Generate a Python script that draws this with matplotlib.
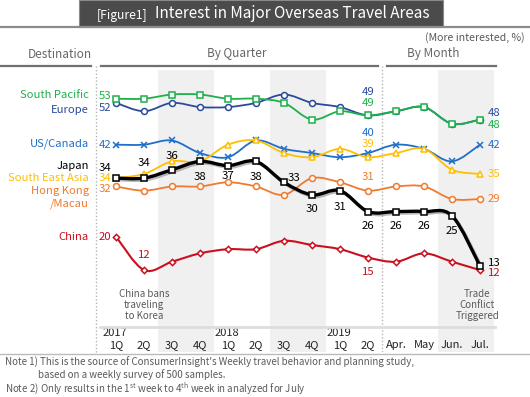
import matplotlib
matplotlib.use("Agg")
import matplotlib.pyplot as plt
import matplotlib.patheffects as pe
import matplotlib.transforms as mtransforms
from matplotlib.path import Path
from matplotlib.patches import PathPatch, Rectangle
from matplotlib.lines import Line2D

plt.rcParams['font.family'] = ['Noto Sans CJK KR', 'DejaVu Sans']
plt.rcParams['mathtext.default'] = 'regular'

W, H = 530, 397

# ---- data ----
periods = ['1Q', '2Q', '3Q', '4Q', '1Q', '2Q', '3Q', '4Q', '1Q', '2Q',
           'Apr.', 'May', 'Jun.', 'Jul.']
years = ['2017', '2018', '2019']
year_start = [0, 4, 8]
shaded = [(2, 3), (6, 7), (12, 13)]

south_pacific = [53, 53, 54, 54, 53, 53, 52, 48, 50, 49, 50, 51, 47, 48]
europe        = [52, 50, 52, 51, 51, 52, 54, 52, 51, 49, 50, 51, 47, 48]
us_canada     = [42, 42, 43, 40, 39, 43, 41, 40, 39, 40, 42, 41, 38, 42]
japan         = [34, 34, 36, 38, 37, 38, 33, 30, 31, 26, 26, 26, 25, 13]
se_asia       = [34, 35, 38, 38, 42, 43, 40, 39, 41, 39, 40, 41, 36, 35]
hk_macau      = [32, 31, 32, 32, 33, 32, 30, 34, 33, 31, 32, 32, 29, 29]
china         = [20, 12, 14, 16, 17, 17, 19, 18, 17, 15, 14, 16, 14, 12]

GREEN, NAVY, BLUE = '#1db04b', '#2b4a9b', '#1f6fc8'
YELLOW, ORANGE, RED = '#ffbf00', '#f07a2e', '#c8101e'
GREY_TXT = '#5a5a5a'


def fx(x):
    return x / W


def fy(y):
    return 1 - y / H


def smooth_path(ys):
    pts = list(enumerate(ys))
    n = len(pts)
    verts, codes = [pts[0]], [Path.MOVETO]
    for i in range(n - 1):
        p0, p1 = pts[max(i - 1, 0)], pts[i]
        p2, p3 = pts[i + 1], pts[min(i + 2, n - 1)]
        c1 = (p1[0] + (p2[0] - p0[0]) / 6, p1[1] + (p2[1] - p0[1]) / 6)
        c2 = (p2[0] - (p3[0] - p1[0]) / 6, p2[1] - (p3[1] - p1[1]) / 6)
        verts += [c1, c2, p2]
        codes += [Path.CURVE4] * 3
    return Path(verts, codes)


fig = plt.figure(figsize=(W / 100, H / 100), dpi=100)
fig.patch.set_facecolor('white')

# title bar
fig.add_artist(Rectangle((fx(79), fy(26.5)), fx(364), 26.5 / H, transform=fig.transFigure,
                         facecolor='#4b4b4b', edgecolor='#8a8a8a', lw=0.8))
fig.add_artist(Line2D([0, 1], [fy(27), fy(27)], color='#8c8c8c', lw=1.6))
fig.text(fx(97), fy(15), '[Figure1]', color='white', fontsize=8.7, va='center', ha='left')
fig.text(fx(155), fy(14), 'Interest in Major Overseas Travel Areas', color='white',
         fontsize=11, va='center', ha='left')

fig.text(fx(525), fy(38), '(More interested, %)', color=GREY_TXT, fontsize=7.6,
         ha='right', va='center')
fig.text(fx(60), fy(54), 'Destination', color='#666666', fontsize=8.5, ha='center', va='center')
fig.text(fx(237), fy(54), 'By Quarter', color='#666666', fontsize=8.5, ha='center', va='center')
fig.text(fx(433), fy(54), 'By Month', color='#666666', fontsize=8.5, ha='center', va='center')
for x0, x1 in [(0, 91), (101, 378), (387, 496)]:
    fig.add_artist(Line2D([fx(x0), fx(x1)], [fy(65.5), fy(65.5)], color='#707070', lw=1.6))

# plot axes: x = period index, y = percent
ax = fig.add_axes([fx(96), fy(352), 404 / W, 286 / H])
ax.set_xlim(-20 / 28, 384 / 28)
ax.set_ylim(53 - (352 - 98.7) / 4.18, 53 + (98.7 - 66) / 4.18)
ax.axis('off')

for a, b in shaded:
    ax.axvspan(a - 0.5, b + 0.5, ymin=0, ymax=(352 - 70) / 286, color='#f0f0f0', lw=0, zorder=0)
ax.axvline(9.5, color='#b5b5b5', lw=1, ls=(0, (1, 1.5)), zorder=0.5)
fig.add_artist(Line2D([fx(95.7), fx(95.7)], [fy(66), fy(352)], color='#b5b5b5', lw=1,
                      ls=(0, (1, 1.5))))
fig.add_artist(Line2D([fx(100), fx(495)], [fy(326.7), fy(326.7)], color='#dddddd', lw=2))
fig.add_artist(Line2D([0, 1], [fy(354), fy(354)], color='#bbbbbb', lw=1))

xs = list(range(len(periods)))
series = [
    (china, RED, 'D', 3.2, 1.5, 2),
    (hk_macau, ORANGE, 'o', 4.3, 1.3, 3),
    (us_canada, BLUE, 'x', 5, 1.3, 4),
    (se_asia, YELLOW, '^', 4.6, 1.3, 5),
    (europe, NAVY, 'o', 4.3, 1.3, 6),
    (south_pacific, GREEN, 's', 4.6, 1.3, 7),
]
for vals, col, mk, ms, lw, z in series:
    ax.add_patch(PathPatch(smooth_path(vals), fill=False, edgecolor=col, lw=lw, zorder=z))
    ax.plot(xs, vals, ls='none', marker=mk, ms=ms, mfc='white', mec=col, mew=1.1, zorder=z + 0.1)

ax.add_patch(PathPatch(smooth_path(japan), fill=False, edgecolor='black', lw=2.4, zorder=9,
                       path_effects=[pe.SimpleLineShadow(offset=(1.2, -1.2), shadow_color='#777777',
                                                         alpha=0.5), pe.Normal()]))
ax.plot(xs, japan, ls='none', marker='s', ms=4.8, mfc='white', mec='black', mew=1.1, zorder=9.1)

# value labels
NUM = 8.2


def lab(i, vals, dx, dy, col, ha='center'):
    ax.annotate(str(vals[i]), (i, vals[i]), xytext=(dx, dy), textcoords='offset points',
                ha=ha, va='center', color=col, fontsize=NUM, zorder=12)


last = len(periods) - 1
# start
lab(0, south_pacific, -3.5, 2.2, GREEN, 'right')
lab(0, europe, -3.5, -3.6, NAVY, 'right')
lab(0, us_canada, -3.5, 0, BLUE, 'right')
lab(0, se_asia, -3.5, 0, YELLOW, 'right')
lab(0, hk_macau, -3.5, -1.7, ORANGE, 'right')
lab(0, china, -3.5, 0, RED, 'right')
lab(0, japan, -8, 7.6, 'black')
# end
lab(last, europe, 5.5, 4.6, NAVY, 'left')
lab(last, south_pacific, 5.5, -4.2, GREEN, 'left')
lab(last, us_canada, 5.5, 0, BLUE, 'left')
lab(last, se_asia, 5.5, 0, YELLOW, 'left')
lab(last, hk_macau, 5.5, 0, ORANGE, 'left')
lab(last, japan, 5.5, 2, 'black', 'left')
lab(last, china, 5.5, -2.2, RED, 'left')
# 2Q 2019
lab(9, europe, 0, 16.8, NAVY)
lab(9, south_pacific, 0, 8.6, GREEN)
lab(9, us_canada, 0, 14.2, BLUE)
lab(9, se_asia, 0, 9.6, YELLOW)
lab(9, hk_macau, 0, 9.6, ORANGE)
lab(9, china, 0, -10.3, RED)
lab(1, china, 0, 10.8, RED)
# Japan
japan_off = [None, (0, 11), (0, 10), (0, -11.5), (0, -7.5), (0, -11.5), (7.5, 3.1), (0, -10.2),
             (0, -11.5), (0, -10.5), (0, -10.5), (0, -10.5), (0, -11)]
for i, off in enumerate(japan_off):
    if off is not None:
        lab(i, japan, off[0], off[1], 'black')

# axis labels
tb = mtransforms.blended_transform_factory(ax.transData, ax.transAxes)
for i, p in enumerate(periods):
    ax.text(i, (352 - 345) / 286, p, transform=tb, ha='center', va='center', fontsize=8,
            color='#222222')
for y, p in zip(years, year_start):
    ax.text(p - 0.48, (352 - 333) / 286, y, transform=tb, ha='left', va='center', fontsize=8,
            color='#222222', fontweight='medium')

ax.text(1, (352 - 305) / 286, 'China bans\ntraveling\nto Korea', transform=tb, ha='center',
        va='center', fontsize=7, color=GREY_TXT, linespacing=1.15)
ax.text(last - 0.1, (352 - 305) / 286, 'Trade\nConflict\nTriggered', transform=tb, ha='center',
        va='center', fontsize=7, color=GREY_TXT, linespacing=1.15)

# destination names
names = [('South Pacific', 95, GREEN), ('Europe', 110, NAVY), ('US/Canada', 144, BLUE),
         ('Japan', 166, 'black'), ('South East Asia', 178.3, YELLOW),
         ('Hong Kong', 190.5, ORANGE), ('/Macau', 204, ORANGE), ('China', 237.3, RED)]
for t, y, c in names:
    fig.text(fx(89), fy(y), t, color=c, fontsize=8.1, ha='right', va='center')

# notes
NOTE = 7
fig.text(fx(5), fy(362), "Note 1) This is the source of ConsumerInsight's Weekly travel behavior "
         "and planning study,", fontsize=NOTE, color=GREY_TXT, va='center')
fig.text(fx(38), fy(375), 'based on a weekly survey of 500 samples.', fontsize=NOTE,
         color=GREY_TXT, va='center')
fig.text(fx(5), fy(388), 'Note 2) Only results in the 1$^{st}$ week to 4$^{th}$ week in analyzed '
         'for July', fontsize=NOTE, color=GREY_TXT, va='center')

fig.savefig('out.png', dpi=100, facecolor='white')
